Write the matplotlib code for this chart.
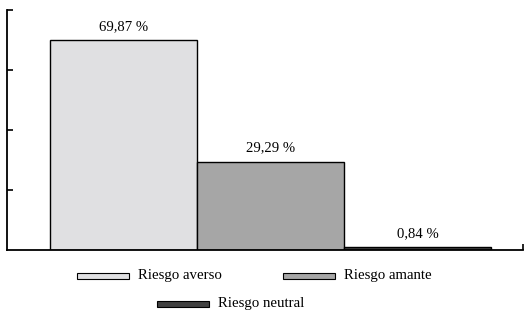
import matplotlib.pyplot as plt
from matplotlib.patches import Rectangle

categories = ["Riesgo averso", "Riesgo amante", "Riesgo neutral"]
values = [69.87, 29.29, 0.84]
colors = ["#e0e0e2", "#a6a6a6", "#404040"]

plt.rcParams['font.family'] = ['Liberation Serif', 'DejaVu Serif']

fig = plt.figure(figsize=(5.25, 3.16), dpi=100)
ax = fig.add_axes([7/525, 66/316, 516/525, 240/316])

x = list(range(len(values)))
ax.bar(x, values, width=1.0, align='edge', color=colors, edgecolor='black', linewidth=1.0)

for xi, v in zip(x, values):
    ax.text(xi + 0.5, v + 2.5, f"{v:.2f} %".replace('.', ','), ha='center', va='bottom', fontsize=10.6)

ax.set_xlim(-43/147, 473/147)
ax.set_ylim(0, 80)
ax.set_yticks([20, 40, 60, 80])
ax.set_yticklabels([])
ax.tick_params(axis='y', direction='in', length=4, width=1.2)
ax.set_xticks([473/147])
ax.set_xticklabels([])
ax.tick_params(axis='x', direction='in', length=4, width=1.2)
for s in ['top', 'right']:
    ax.spines[s].set_visible(False)
for s in ['left', 'bottom']:
    ax.spines[s].set_linewidth(1.3)

# legend drawn by hand: two items on first row, one centred below
leg_pos = [(77, 276), (283, 276), (157, 304)]
for (lx, ly), lab, c in zip(leg_pos, categories, colors):
    fig.patches.append(Rectangle((lx/525, 1 - (ly + 3)/316), 52/525, 6/316,
                                 transform=fig.transFigure, facecolor=c,
                                 edgecolor='black', linewidth=0.8))
    fig.text((lx + 61)/525, 1 - ly/316, lab, ha='left', va='center', fontsize=10.7)

fig.savefig('out.png', dpi=100)
